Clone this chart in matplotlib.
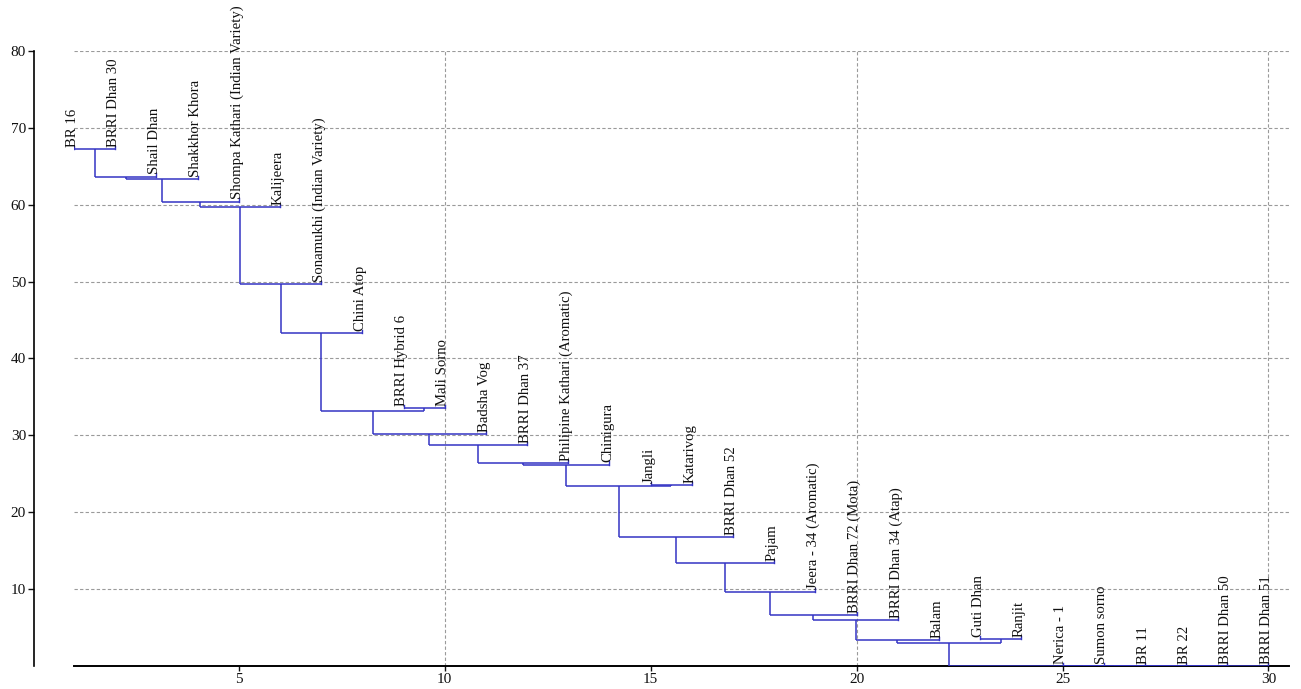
import matplotlib
matplotlib.use("Agg")
import matplotlib.pyplot as plt

plt.rcParams['font.family'] = ['Liberation Serif', 'DejaVu Serif']

leaf_labels = [
    "BR 16", "BRRI Dhan 30", "Shail Dhan", "Shakkhor Khora",
    "Shompa Kathari (Indian Variety)", "Kalijeera", "Sonamukhi (Indian Variety)",
    "Chini Atop", "BRRI Hybrid 6", "Mali Sorno", "Badsha Vog", "BRRI Dhan 37",
    "Philipine Kathari (Aromatic)", "Chinigura", "Jangli", "Katarivog",
    "BRRI Dhan 52", "Pajam", "Jeera - 34 (Aromatic)", "BRRI Dhan 72 (Mota)",
    "BRRI Dhan 34 (Atap)", "Balam", "Guti Dhan", "Ranjit", "Nerica - 1",
    "Sumon sorno", "BR 11", "BR 22", "BRRI Dhan 50", "BRRI Dhan 51",
]

# merges: node ids 0..29 are leaves, each merge creates node 30, 31, ...
merge_left = [0, 30, 31, 32, 33, 34, 35, 8, 36, 38, 39, 40, 41, 14, 42, 44, 45, 46, 47, 48, 49, 22, 50,
              24, 53, 54, 55, 56, 52]
merge_right = [1, 2, 3, 4, 5, 6, 7, 9, 37, 10, 11, 12, 13, 15, 43, 16, 17, 18, 19, 20, 21, 23, 51,
               25, 26, 27, 28, 29, 57]
merge_heights = [67.16, 63.62, 63.32, 60.37, 59.64, 49.67, 43.27, 33.56, 33.21, 30.18, 28.75, 26.37,
                 26.2, 23.55, 23.36, 16.75, 13.37, 9.68, 6.65, 6.0, 3.4, 3.5, 3.05,
                 0, 0, 0, 0, 0, 0]

x_ticks = [5, 10, 15, 20, 25, 30]
y_ticks = [10, 20, 30, 40, 50, 60, 70, 80]
x_grid = [10, 20, 30]

line_color = '#3434c4'

fig = plt.figure(figsize=(13.01, 6.89), dpi=100)
ax = fig.add_axes([0.0569, 0.0331, 0.9339, 0.8933])
ax.set_xlim(1, 30.5)
ax.set_ylim(0, 80)

n = len(leaf_labels)
pos = {i: float(i + 1) for i in range(n)}
hgt = {}
leaf_h = {}
for k, (a, b, h) in enumerate(zip(merge_left, merge_right, merge_heights)):
    node = n + k
    for c in (a, b):
        if c < n:
            leaf_h[c] = h
        else:
            ax.plot([pos[c], pos[c]], [hgt[c], h], color=line_color, lw=1.1, zorder=3,
                    solid_capstyle='butt')
    ax.plot([pos[a], pos[b]], [h, h], color=line_color, lw=1.1, zorder=3, solid_capstyle='butt')
    pos[node] = (pos[a] + pos[b]) / 2.0
    hgt[node] = h

for i, lab in enumerate(leaf_labels):
    h = leaf_h[i]
    ax.plot([pos[i], pos[i]], [h, h + 0.45], color=line_color, lw=1.0, zorder=3)
    ax.text(pos[i] + 0.04, h + 0.3, lab, rotation=90, rotation_mode='anchor',
            ha='left', va='baseline', fontsize=10.6, color='#111111', clip_on=False, zorder=4)

for yv in y_ticks:
    ax.axhline(yv, color='#9a9a9a', lw=0.8, ls=(0, (3, 2)), zorder=1)
for xv in x_grid:
    ax.axvline(xv, color='#9a9a9a', lw=0.8, ls=(0, (3, 2)), zorder=1)

ax.spines['top'].set_visible(False)
ax.spines['right'].set_visible(False)
ax.spines['left'].set_position(('outward', 29))
ax.spines['left'].set_linewidth(1.2)
ax.spines['bottom'].set_linewidth(1.4)
ax.spines['bottom'].set_zorder(2)

ax.set_xticks(x_ticks)
ax.set_yticks(y_ticks)
ax.tick_params(axis='both', direction='out', length=4, width=1, labelsize=11, colors='#111111')
ax.tick_params(axis='x', pad=1.5, length=3.5)
ax.tick_params(axis='y', pad=1.5)

fig.savefig('out.png', dpi=100)
